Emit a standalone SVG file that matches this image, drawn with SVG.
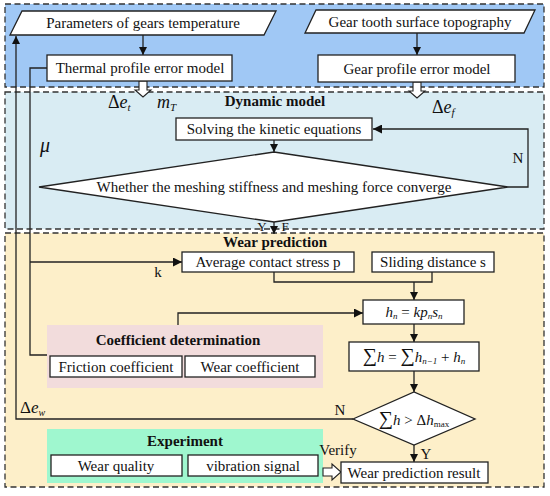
<svg xmlns="http://www.w3.org/2000/svg" width="550" height="496" viewBox="0 0 550 496" font-family="'Liberation Serif', 'DejaVu Serif', serif">
<style>
text{font-family:"Liberation Serif","DejaVu Serif",serif;font-size:15px;fill:#111}
.b{font-weight:bold}
.m{font-style:italic}
.reg{stroke:#333;stroke-width:1.3;stroke-dasharray:6,3.5}
.box{fill:#fff;stroke:#222;stroke-width:1.3}
.ln{fill:none;stroke:#222;stroke-width:1.3}
.hol{fill:#fff;stroke:#222;stroke-width:1.1}
</style>
<defs>
<marker id="ah" viewBox="0 0 10 10" refX="10" refY="5" markerWidth="8" markerHeight="8" markerUnits="userSpaceOnUse" orient="auto">
<path d="M0,0 L10,5 L0,10 z" fill="#111"/>
</marker>
<marker id="ah2" viewBox="0 0 10 10" refX="10" refY="5" markerWidth="10" markerHeight="9" markerUnits="userSpaceOnUse" orient="auto">
<path d="M0,0 L10,5 L0,10 z" fill="#111"/>
</marker>
</defs>
<rect width="550" height="496" fill="#fff"/>
<g id="regions">
<rect class="reg" x="5" y="4" width="539" height="83" fill="#a0c8f5"/>
<rect class="reg" x="5" y="92" width="539" height="137" fill="#d9ecf3"/>
<rect class="reg" x="5" y="233" width="539" height="254" fill="#fdefc9"/>
<rect x="47" y="325" width="276" height="63" fill="#f2dcdc"/>
<rect x="47" y="429" width="276" height="54" fill="#9ff7cf"/>
</g>
<g id="connectors">
<line class="ln" x1="143" y1="35" x2="143" y2="55" marker-end="url(#ah)"/>
<line class="ln" x1="417" y1="33" x2="417" y2="55" marker-end="url(#ah)"/>
<polygon class="hol" points="139,81 147,81 147,90 151,90 143,97 135,90 139,90"/>
<polygon class="hol" points="413,82 421,82 421,91 425,91 417,98 409,91 413,91"/>
<line class="ln" x1="274" y1="140" x2="274" y2="152" marker-end="url(#ah)"/>
<polyline class="ln" points="508,187 528,187 528,129 373,129" marker-end="url(#ah2)"/>
<line class="ln" x1="274" y1="222" x2="274" y2="234" marker-end="url(#ah)"/>
<polyline class="ln" points="47,68 30,68 30,355 47,355"/>
<line class="ln" x1="30" y1="262" x2="182" y2="262" marker-end="url(#ah2)"/>
<polyline class="ln" points="274,272 274,282 432,282 432,272"/>
<line class="ln" x1="414" y1="282" x2="414" y2="300" marker-end="url(#ah)"/>
<polyline class="ln" points="178,325 178,313 363,313" marker-end="url(#ah2)"/>
<line class="ln" x1="414" y1="324" x2="414" y2="342" marker-end="url(#ah)"/>
<line class="ln" x1="414" y1="371" x2="414" y2="392" marker-end="url(#ah)"/>
<polyline class="ln" points="353,419 16,419 16,36" marker-end="url(#ah)"/>
<line class="ln" x1="414" y1="445" x2="414" y2="462" marker-end="url(#ah)"/>
<polygon class="hol" points="323,468 332,468 332,464 341,472 332,480 332,476 323,476"/>
</g>
<g id="n-params">
<polygon class="box" points="22,11 276,11 264,35 10,35"/>
<text x="143" y="28" text-anchor="middle">Parameters of gears temperature</text>
</g>
<g id="n-topo">
<polygon class="box" points="316,10 535,10 524,33 305,33"/>
<text x="420" y="27" text-anchor="middle">Gear tooth surface topography</text>
</g>
<g id="n-thermal">
<rect class="box" x="47" y="55" width="185" height="26"/>
<text x="140" y="73" text-anchor="middle">Thermal profile error model</text>
</g>
<g id="n-gearprofile">
<rect class="box" x="318" y="55" width="197" height="27"/>
<text x="417" y="74" text-anchor="middle">Gear profile error model</text>
</g>
<g id="labels-dyn">
<text x="108" y="108" style="font-size:18px">Δ<tspan class="m">e</tspan><tspan class="m" dy="3" style="font-size:11px">t</tspan></text>
<text x="157" y="108" class="m" style="font-size:18px">m<tspan dy="3" style="font-size:11px">T</tspan></text>
<text x="432" y="113" style="font-size:18px">Δ<tspan class="m">e</tspan><tspan class="m" dy="3" style="font-size:11px">f</tspan></text>
<text x="40" y="152" class="m" style="font-size:20px">μ</text>
<text x="275" y="106" text-anchor="middle" class="b">Dynamic model</text>
<text x="518" y="163" text-anchor="middle">N</text>
<text x="262" y="231" text-anchor="middle" style="font-size:13px">Y</text>
<text x="285" y="231" text-anchor="middle" style="font-size:13px">F</text>
</g>
<g id="n-solve">
<rect class="box" x="176" y="118" width="196" height="22"/>
<text x="274" y="134" text-anchor="middle">Solving the kinetic equations</text>
</g>
<g id="n-converge">
<polygon class="box" points="39,187 274,152 508,187 274,222"/>
<text x="274" y="192" text-anchor="middle">Whether the meshing stiffness and meshing force converge</text>
</g>
<g id="labels-wear">
<text x="275" y="247" text-anchor="middle" class="b">Wear prediction</text>
<text x="158" y="277" text-anchor="middle">k</text>
<text x="20" y="413" style="font-size:17px">Δ<tspan class="m">e</tspan><tspan class="m" dy="3" style="font-size:10px">w</tspan></text>
<text x="340" y="415" text-anchor="middle">N</text>
<text x="426" y="459" text-anchor="middle">Y</text>
<text x="338" y="455" text-anchor="middle">Verify</text>
</g>
<g id="n-stress">
<rect class="box" x="182" y="252" width="172" height="20"/>
<text x="268" y="267" text-anchor="middle">Average contact stress p</text>
</g>
<g id="n-sliding">
<rect class="box" x="372" y="252" width="122" height="20"/>
<text x="433" y="267" text-anchor="middle">Sliding distance s</text>
</g>
<g id="n-hn">
<rect class="box" x="363" y="300" width="101" height="24"/>
<text x="414" y="317" text-anchor="middle"><tspan class="m">h</tspan><tspan class="m" dy="2" style="font-size:9px">n</tspan><tspan dy="-2"> = </tspan><tspan class="m">kp</tspan><tspan class="m" dy="2" style="font-size:9px">n</tspan><tspan class="m" dy="-2">s</tspan><tspan class="m" dy="2" style="font-size:9px">n</tspan></text>
</g>
<g id="n-sum">
<rect class="box" x="349" y="342" width="130" height="29"/>
<text x="414" y="362" text-anchor="middle"><tspan style="font-size:20px">∑</tspan><tspan class="m">h</tspan> = <tspan style="font-size:20px">∑</tspan><tspan class="m">h</tspan><tspan class="m" dy="2" style="font-size:9px">n−1</tspan><tspan dy="-2"> + </tspan><tspan class="m">h</tspan><tspan class="m" dy="2" style="font-size:9px">n</tspan></text>
</g>
<g id="n-check">
<polygon class="box" points="353,419 414,392 475,419 414,445"/>
<text x="414" y="425" text-anchor="middle"><tspan style="font-size:20px">∑</tspan><tspan class="m">h</tspan> &gt; Δ<tspan class="m">h</tspan><tspan dy="2" style="font-size:9px">max</tspan></text>
</g>
<g id="n-coef">
<text x="178" y="345" text-anchor="middle" class="b">Coefficient determination</text>
<rect class="box" x="50" y="356" width="132" height="21"/>
<text x="116" y="372" text-anchor="middle">Friction coefficient</text>
<rect class="box" x="185" y="356" width="130" height="21"/>
<text x="250" y="372" text-anchor="middle">Wear coefficient</text>
</g>
<g id="n-experiment">
<text x="185" y="446" text-anchor="middle" class="b">Experiment</text>
<rect class="box" x="51" y="455" width="131" height="21"/>
<text x="116" y="471" text-anchor="middle">Wear quality</text>
<rect class="box" x="188" y="455" width="130" height="21"/>
<text x="253" y="471" text-anchor="middle">vibration signal</text>
</g>
<g id="n-result">
<rect class="box" x="341" y="462" width="147" height="21"/>
<text x="414" y="478" text-anchor="middle">Wear prediction result</text>
</g>
</svg>
